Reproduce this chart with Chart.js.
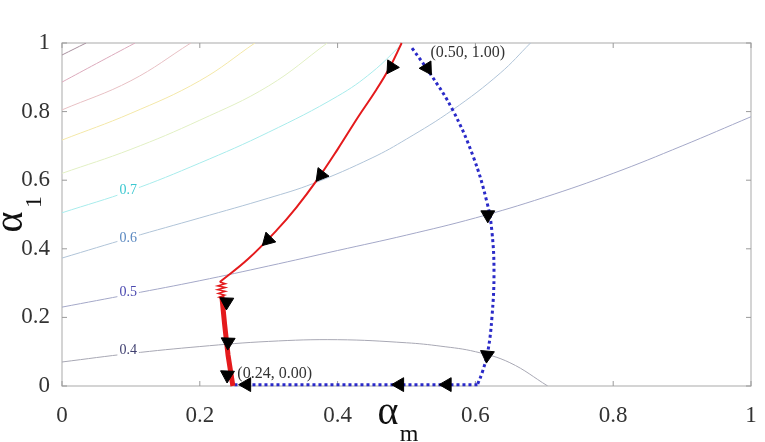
<!DOCTYPE html>
<html>
<head>
<meta charset="utf-8">
<script src="https://cdn.jsdelivr.net/npm/chart.js@4.4.1/dist/chart.umd.min.js"></script>
<style>
  html, body { margin: 0; padding: 0; background: #fff; }
  #chart { display: block; }
</style>
</head>
<body>
<canvas id="chart" width="765" height="442"></canvas>
<script>
// axis ticks
const xTicks = [0, 0.2, 0.4, 0.6, 0.8, 1];
const yTicks = [0, 0.2, 0.4, 0.6, 0.8, 1];
const tickLabels = ["0", "0.2", "0.4", "0.6", "0.8", "1"];

// contour lines (alpha_m, alpha_l)
const contour04 = [[0, 0.07], [0.1, 0.095], [0.2, 0.115], [0.3, 0.13], [0.4, 0.135], [0.5, 0.126], [0.55, 0.116], [0.6, 0.1], [0.65, 0.068], [0.705, 0]];
const contour05 = [[0, 0.23], [0.1, 0.268], [0.2, 0.307], [0.3, 0.35], [0.4, 0.395], [0.5, 0.44], [0.6, 0.49], [0.7, 0.55], [0.8, 0.62], [0.9, 0.7], [1, 0.785]];
const contour06 = [[0, 0.373], [0.1, 0.433], [0.2, 0.49], [0.3, 0.548], [0.364, 0.59], [0.45, 0.665], [0.5, 0.72], [0.567, 0.805], [0.636, 0.912], [0.68, 1]];
const contour07 = [[0, 0.505], [0.1, 0.57], [0.2, 0.65], [0.3, 0.74], [0.4, 0.845], [0.45, 0.915], [0.495, 1]];
const contour08 = [[0, 0.62], [0.1, 0.69], [0.2, 0.775], [0.3, 0.875], [0.385, 1]];
const contour09 = [[0, 0.717], [0.1, 0.795], [0.2, 0.89], [0.28, 1]];
const contour10 = [[0, 0.805], [0.1, 0.89], [0.187, 1]];
const contour11 = [[0, 0.886], [0.05, 0.94], [0.106, 1]];
const contour12 = [[0, 0.965], [0.035, 1]];

const contourLabels = [
  { text: "0.7", x: 0.096, y: 0.571, color: "#3cc8d0" },
  { text: "0.6", x: 0.096, y: 0.431, color: "#5a88c0" },
  { text: "0.5", x: 0.096, y: 0.274, color: "#4a48b0" },
  { text: "0.4", x: 0.096, y: 0.105, color: "#404070" },
];

// trajectories
const redPath = [[0.493, 1], [0.476, 0.93], [0.455, 0.86], [0.43, 0.785], [0.4, 0.69], [0.37, 0.6], [0.34, 0.52], [0.312, 0.455], [0.27, 0.37], [0.229, 0.303]];
const redZigzag = [[0.229, 0.303], [0.237, 0.298], [0.226, 0.292], [0.237, 0.287], [0.226, 0.281], [0.237, 0.276], [0.227, 0.27], [0.236, 0.265], [0.228, 0.259], [0.236, 0.254]];
const redDrop = [[0.232, 0.262], [0.236, 0.18], [0.241, 0.09], [0.248, 0]];
const bluePath = [[0.508, 0.985], [0.534, 0.912], [0.567, 0.805], [0.597, 0.668], [0.617, 0.534], [0.624, 0.45], [0.627, 0.33], [0.624, 0.2], [0.618, 0.1], [0.61, 0.04], [0.603, 0.004]];
const blueBase = [[0.603, 0.004], [0.5, 0.004], [0.4, 0.004], [0.3, 0.004], [0.248, 0.004]];

// arrow heads: x, y, heading (deg, clockwise from up)
const redArrows = [[0.478, 0.93, 213], [0.376, 0.615, 218], [0.299, 0.426, 225], [0.239, 0.245, 182], [0.241, 0.128, 182], [0.24, 0.032, 182]];
const blueArrows = [[0.53, 0.927, 148], [0.618, 0.499, 180], [0.617, 0.09, 185], [0.559, 0.004, 270], [0.49, 0.004, 270], [0.268, 0.004, 270]];

const points = [
  { text: "(0.50, 1.00)", x: 0.5, y: 1, dx: 24, dy: 10 },
  { text: "(0.24, 0.00)", x: 0.24, y: 0, dx: 10, dy: -12 },
];

const serif = "'Liberation Serif', 'Times New Roman', serif";
const toXY = (arr) => arr.map((p) => ({ x: p[0], y: p[1] }));

function curve(arr, color, width, extra) {
  return Object.assign({
    data: toXY(arr),
    showLine: true,
    borderColor: color,
    borderWidth: width,
    pointRadius: 0,
    tension: 0.4,
    fill: false,
    order: 5,
  }, extra || {});
}

function arrows(arr) {
  return {
    data: toXY(arr),
    showLine: false,
    pointStyle: "triangle",
    pointRadius: 8,
    pointRotation: arr.map((a) => a[2]),
    backgroundColor: "#000",
    borderColor: "#000",
    borderWidth: 1,
    clip: false,
    order: 0,
  };
}

const framePlugin = {
  id: "frame",
  beforeDatasetsDraw(chart) {
    const { ctx, chartArea: a, scales } = chart;
    ctx.save();
    ctx.strokeStyle = "#b8b8b8";
    ctx.lineWidth = 1.2;
    ctx.strokeRect(a.left, a.top, a.right - a.left, a.bottom - a.top);
    ctx.strokeStyle = "#9a9a9a";
    ctx.lineWidth = 1;
    ctx.beginPath();
    xTicks.forEach((v) => {
      const px = scales.x.getPixelForValue(v);
      ctx.moveTo(px, a.bottom); ctx.lineTo(px, a.bottom - 5);
      ctx.moveTo(px, a.top); ctx.lineTo(px, a.top + 5);
    });
    yTicks.forEach((v) => {
      const py = scales.y.getPixelForValue(v);
      ctx.moveTo(a.left, py); ctx.lineTo(a.left + 5, py);
      ctx.moveTo(a.right, py); ctx.lineTo(a.right - 5, py);
    });
    ctx.stroke();
    ctx.restore();
  },
  afterDatasetsDraw(chart) {
    const { ctx, scales } = chart;
    ctx.save();
    // contour labels
    ctx.font = "14px " + serif;
    ctx.textAlign = "center";
    ctx.textBaseline = "middle";
    contourLabels.forEach((l) => {
      const px = scales.x.getPixelForValue(l.x);
      const py = scales.y.getPixelForValue(l.y);
      const w = ctx.measureText(l.text).width;
      ctx.fillStyle = "#fff";
      ctx.fillRect(px - w / 2 - 2, py - 7, w + 4, 14);
      ctx.fillStyle = l.color;
      ctx.fillText(l.text, px, py);
    });
    // point annotations
    ctx.font = "16px " + serif;
    ctx.textAlign = "left";
    ctx.fillStyle = "#333";
    points.forEach((p) => {
      ctx.fillText(p.text, scales.x.getPixelForValue(p.x) + p.dx, scales.y.getPixelForValue(p.y) + p.dy);
    });
    // axis titles
    ctx.fillStyle = "#111";
    ctx.textAlign = "center";
    ctx.textBaseline = "alphabetic";
    ctx.font = "40px " + serif;
    ctx.fillText("\u03b1", 388, 424);
    ctx.font = "24px " + serif;
    ctx.fillText("m", 409, 441);
    ctx.translate(22, 222);
    ctx.rotate(-Math.PI / 2);
    ctx.font = "40px " + serif;
    ctx.fillText("\u03b1", 0, 0);
    ctx.font = "24px " + serif;
    ctx.fillText("1", 20, 19);
    ctx.restore();
  },
};

new Chart(document.getElementById("chart"), {
  type: "scatter",
  data: {
    datasets: [
      arrows(redArrows),
      arrows(blueArrows),
      curve(redPath, "#e41a1c", 2, { order: 1, clip: false }),
      curve(redZigzag, "#e41a1c", 1.5, { order: 1, tension: 0, clip: false }),
      curve(redDrop, "#e41a1c", 5, { order: 1, tension: 0, clip: false }),
      curve(bluePath, "#2a2ac8", 3, { order: 2, borderDash: [3, 3], clip: false }),
      curve(blueBase, "#2a2ac8", 3, { order: 2, borderDash: [3, 3], tension: 0, clip: false }),
      curve(contour04, "#a8a8b4", 1),
      curve(contour05, "#a4a8c8", 1),
      curve(contour06, "#b0c4d8", 1),
      curve(contour07, "#a8ecec", 1),
      curve(contour08, "#e2f0c4", 1),
      curve(contour09, "#f4e8a8", 1),
      curve(contour10, "#e8c0c4", 1),
      curve(contour11, "#dcaabc", 1),
      curve(contour12, "#a8909e", 1),
    ],
  },
  options: {
    responsive: false,
    animation: false,
    devicePixelRatio: 1,
    layout: { padding: { left: 0, top: 43, right: 14, bottom: 0 } },
    plugins: { legend: { display: false }, tooltip: { enabled: false } },
    scales: {
      x: {
        type: "linear",
        min: 0,
        max: 1,
        afterBuildTicks: (s) => { s.ticks = xTicks.map((v) => ({ value: v })); },
        afterFit: (s) => { s.height = 56; },
        grid: { display: false },
        border: { display: false },
        ticks: {
          padding: 8,
          maxRotation: 0,
          color: "#333",
          font: { family: serif, size: 23 },
          callback: (v, i) => tickLabels[i],
        },
      },
      y: {
        type: "linear",
        min: 0,
        max: 1,
        afterBuildTicks: (s) => { s.ticks = yTicks.map((v) => ({ value: v })); },
        afterFit: (s) => { s.width = 62; },
        grid: { display: false },
        border: { display: false },
        ticks: {
          padding: 4,
          color: "#333",
          font: { family: serif, size: 23 },
          callback: (v, i) => tickLabels[i],
        },
      },
    },
  },
  plugins: [framePlugin],
});
</script>
</body>
</html>
